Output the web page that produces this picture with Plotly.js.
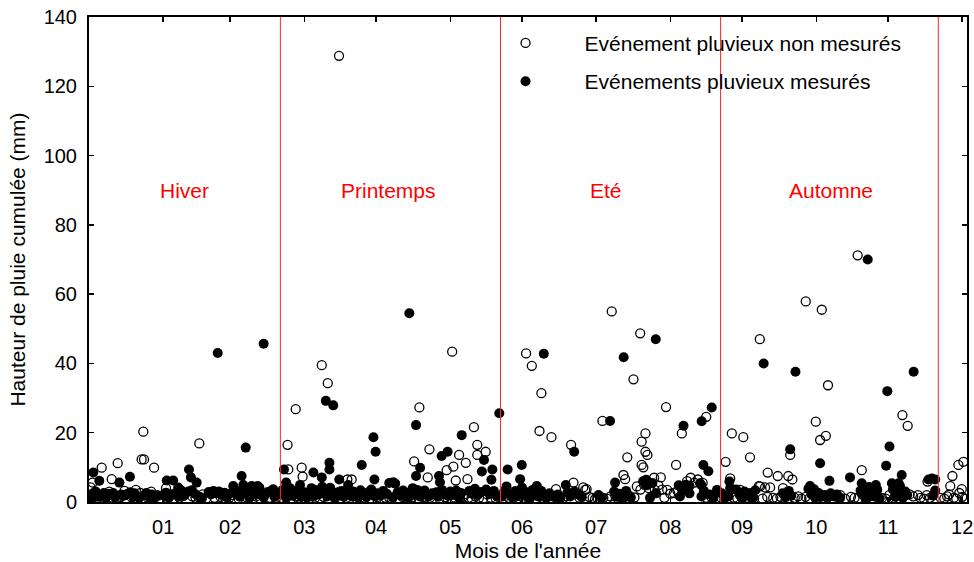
<!DOCTYPE html>
<html>
<head>
<meta charset="utf-8">
<script src="https://cdn.plot.ly/plotly-3.0.1.min.js"></script>
<style>html,body{margin:0;padding:0;background:#fff;}#chart{width:974px;height:562px;}</style>
</head>
<body>
<div id="chart"></div>
<script>
// Day of year ticks (end of each month) and their labels
var monthTickDays = [31, 59, 90, 120, 151, 181, 212, 243, 273, 304, 334, 365];
var monthLabels = ['01','02','03','04','05','06','07','08','09','10','11','12'];

// Season boundaries (day of year) and season labels
var seasonBounds = [80, 172, 264, 355];
var seasonNames = ['Hiver', 'Printemps', 'Eté', 'Automne'];
var seasonLabelDay = [40, 125, 216, 310];
var seasonLabelVal = [90, 90, 90, 90];

var seriesNames = ['Evénement pluvieux non mesurés', 'Evénements pluvieux mesurés'];

// Unmeasured rain events (open circles): day of year / cumulative rain (mm)
var unmeasDay = [
 104.5, 22.7, 22, 23, 5.3, 12, 27.2, 46.1, 1.5, 0.7, 9.5, 83, 83.3, 86.4, 88.9, 89.3, 97.3, 99.8, 108, 109.8,
 138.1, 151.8, 160.9, 162.3, 142.3, 154.7, 162.3, 165.8, 135.9, 157.5, 152.3, 149.5, 141.6, 158.2, 153.3,
 182.7, 185.1, 189.1, 188.3, 193.3, 201.5, 202.5, 195.2, 208, 206.6, 214.6, 218.5, 230.4, 227.6, 241.2, 258,
 232.6, 231, 232.6, 233.4, 225, 231, 231.7, 223.4, 224.1, 236.2, 239, 245.4, 247.8,
 268.7, 273.5, 266.1, 276.3, 280.4, 299.6, 306.3, 308.9, 321.3, 303.8, 305.6, 308, 293.1, 340, 342.2, 323,
 283.7, 287.9, 292.3, 294, 280, 282.6, 284.7, 350.5, 360, 360.9, 363.4, 365.5, 364.8,
 0.8, 2.0, 3.0, 4.5, 6.5, 8.5, 9.8, 11.5, 13.0, 14.8, 15.5, 17.8, 19.6, 19.6, 21.5, 22.5, 24.5, 26.0, 27.3, 28.5,
 30.0, 32.2, 33.0, 35.5, 37.8, 39.5, 43.2, 44.5, 45.8, 47.5, 49.0, 52.5, 55.0, 57.0, 58.6, 60.0, 62.5, 66.0, 69.8,
 71.5, 73.5, 75.5, 78.2,
 80.5, 81.5, 84.5, 86.5, 88.0, 90.0, 91.8, 94.5, 96.5, 98.0, 100.0, 102.5, 105.0, 107.5, 110.0, 112.0, 115.2,
 117.5, 121.0, 124.0, 125.5, 126.5, 129.5, 131.0, 133.0, 135.0, 137.8, 140.0, 142.5, 144.0, 146.5, 149.0, 151.5,
 153.0, 155.0, 156.3, 157.5, 158.7, 160.0, 161.5, 163.0, 164.8, 166.5, 168.0, 170.0, 171.0,
 173.0, 175.5, 178.0, 180.0, 181.5, 183.5, 184.8, 187.0, 189.5, 191.5, 193.0, 195.5, 198.0, 199.5, 203.8, 205.0,
 207.4, 209.0, 210.5, 211.5, 212.5, 215.0, 216.5, 218.0, 221.0, 223.5, 226.0, 228.0, 229.0, 230.5, 232.0, 234.0,
 236.5, 238.0, 239.6, 240.5, 241.7, 243.0, 244.5, 246.0, 250.0, 251.5, 253.0, 254.5, 256.5, 258.0, 260.0, 262.0,
 264.5, 266.0, 268.0, 269.5, 271.0, 272.2, 274.8, 276.8, 278.0, 280.5, 281.5, 283.5, 286.0, 287.5, 289.0, 290.1,
 292.0, 295.0, 296.4, 297.8, 299.5, 301.0, 304.5, 307.0, 309.0, 311.0, 313.0, 314.0, 316.0, 318.5, 320.0, 321.5,
 323.0, 324.5, 326.5, 328.0, 329.0, 331.5, 333.0, 334.5, 336.5, 343.0, 344.5, 346.5, 347.5, 349.0, 350.2, 351.5,
 356.0, 357.5, 358.7, 359.5, 361.5, 362.5, 363.8, 365.0, 366.0
];
var unmeasVal = [
 128.8, 20.3, 12.3, 12.3, 9.9, 11.2, 9.9, 16.9, 5.6, 4.2, 6.6, 16.5, 9.4, 26.8, 9.9, 7.3, 39.5, 34.3, 6.5, 6.5,
 27.3, 43.4, 21.6, 16.5, 15.2, 13.6, 13.6, 14.5, 11.7, 11.3, 10.2, 9.2, 7.1, 6.6, 6.2,
 42.9, 39.3, 31.4, 20.5, 18.7, 16.5, 5.6, 3.7, 3.7, 4.2, 23.4, 55.0, 48.7, 35.4, 27.4, 24.6,
 19.8, 17.4, 14.5, 13.6, 12.9, 10.7, 10.0, 7.8, 6.6, 7.0, 7.1, 10.7, 19.8,
 19.8, 18.7, 11.6, 12.9, 47.0, 57.9, 55.5, 33.7, 71.2, 23.2, 17.9, 19.1, 13.6, 25.1, 22.0, 9.2,
 8.5, 7.5, 7.5, 6.5, 4.6, 4.2, 4.2, 5.9, 4.6, 7.5, 10.7, 11.6, 3.7,
 1.2, 2.6, 0.8, 1.6, 0.9, 3.0, 1.2, 0.8, 1.5, 3.2, 1.0, 1.4, 3.5, 1.2, 2.6, 0.9, 1.3, 3.0, 1.2, 2.0,
 1.0, 4.0, 1.5, 1.0, 1.2, 1.8, 1.6, 1.2, 1.4, 2.2, 1.0, 1.2, 1.5, 1.0, 1.2, 2.0, 1.0, 1.3, 1.6,
 1.0, 2.2, 1.2, 1.2,
 1.2, 2.5, 1.0, 1.6, 1.2, 1.0, 2.0, 1.2, 0.9, 1.5, 1.0, 1.4, 1.0, 1.2, 1.6, 0.9, 1.2,
 1.0, 1.5, 1.2, 1.2, 0.8, 1.0, 1.5, 1.0, 1.3, 1.0, 1.5, 1.2, 2.3, 1.0, 1.4, 1.0,
 1.2, 1.2, 1.5, 2.3, 1.2, 1.0, 1.6, 1.2, 1.0, 2.2, 1.2, 1.0, 1.5,
 1.0, 1.2, 1.5, 1.8, 1.2, 1.5, 2.2, 1.0, 1.2, 2.0, 1.0, 1.3, 1.0, 1.6, 2.5, 1.2,
 3.5, 1.5, 1.2, 0.8, 1.2, 1.2, 1.0, 1.6, 1.0, 1.5, 1.0, 1.3, 4.5, 3.6, 5.0, 4.0,
 3.5, 4.8, 3.6, 1.2, 3.5, 2.4, 2.6, 3.2, 6.0, 7.0, 5.6, 6.5, 5.5, 1.2, 1.5, 1.0,
 1.0, 1.5, 6.8, 1.2, 1.0, 3.5, 1.2, 1.6, 1.0, 4.5, 1.0, 1.5, 1.2, 1.0, 1.5, 4.0,
 1.0, 1.2, 1.6, 1.0, 1.5, 1.0, 1.2, 1.0, 1.5, 1.0, 1.5, 2.0, 1.0, 1.5, 1.2, 1.0,
 2.4, 1.2, 1.8, 1.0, 2.5, 1.2, 1.0, 2.0, 1.2, 2.2, 1.6, 2.0, 1.2, 1.0, 2.0, 1.2,
 1.2, 1.0, 1.6, 2.2, 1.2, 1.0, 2.6, 1.5, 1.0
];

// Measured rain events (filled circles): day of year / cumulative rain (mm)
var measDay = [
 53.8, 73, 65.5, 1.8, 4.3, 12.7, 17.1, 41.8, 42.6, 45, 32.5, 35.2, 37.3, 63.8, 60.3, 64.5, 68, 71.2, 77,
 81.5, 82.4, 84, 88.2, 99, 102.1, 100.5, 100.5, 93.8, 97.3, 104.6, 133.9, 136.7, 155.8, 118.9, 119.8, 147.4,
 149.9, 165.1, 114, 138.4, 168.6, 175, 164.2, 136.7, 146.3, 119.3, 127.2, 146.7,
 171.5, 180.9, 180.2, 187.2, 190.1, 199.3, 202.8, 217.8, 223.5, 219.9, 232.9, 236.9, 248.5, 256.1, 260.3,
 256.8, 258.9, 251, 255.9, 267.7, 268, 282, 295.3, 293.1, 305.6, 325.5, 333.7, 344.7, 334.6, 333.2, 339.7,
 318.1, 309.5, 301.4, 303.1, 323, 328.9, 335.6, 338.4, 350.9, 353.7, 353.7,
 0.5, 1.2, 2.8, 3.5, 5.0, 6.2, 7.0, 8.0, 9.0, 10.1, 11.0, 13.5, 14.6, 16.0, 17.2, 18.3, 19.0, 21.0, 23.2, 24.0,
 25.1, 26.2, 27.0, 29.0, 31.0, 32.2, 33.5, 34.6, 36.0, 37.5, 38.6, 40.0, 41.5, 43.0, 44.2, 46.3, 47.2, 50.0,
 51.0, 52.0, 53.2, 54.3, 55.5, 56.6, 57.5, 59.5, 61.2, 62.0, 63.0, 65.0, 66.2, 67.0, 68.5, 69.8, 70.5, 72.0,
 73.0, 74.5, 76.0, 77.5, 78.6,
 80.5, 81.0, 82.5, 83.5, 85.0, 86.0, 87.2, 88.8, 90.0, 91.2, 92.0, 93.0, 94.0, 95.2, 96.0, 97.5, 98.5, 99.5,
 100.8, 101.7, 103.0, 104.0, 105.5, 106.5, 107.4, 108.3, 109.5, 110.5, 111.6, 112.5, 113.5, 114.8, 116.0,
 117.0, 118.0, 119.5, 120.5, 122.0, 123.0, 124.5, 125.5, 127.0, 128.0, 129.0, 130.2, 131.3, 132.5, 133.5,
 134.5, 135.3, 136.0, 137.2, 138.5, 139.6, 140.3, 142.0, 143.5, 145.2, 146.0, 147.5, 148.5, 150.2, 151.0,
 152.2, 153.5, 154.6, 155.5, 159.0, 160.2, 161.3, 162.5, 164.0, 166.0, 167.3, 168.2, 169.2, 170.3,
 172.5, 173.5, 174.5, 176.0, 177.0, 178.3, 179.5, 181.0, 182.0, 183.2, 184.5, 185.5, 186.5, 188.0, 189.0,
 190.3, 191.2, 192.5, 194.0, 196.0, 197.0, 200.0, 201.2, 203.0, 204.5, 206.0, 213.0, 214.2, 219.5, 220.5,
 221.5, 222.6, 224.5, 225.5, 226.5, 231.6, 233.0, 234.5, 235.5, 237.0, 246.5, 247.0, 248.2, 249.5, 251.0,
 255.4, 256.0, 257.0, 259.5, 261.0, 262.5,
 264.5, 265.6, 267.3, 270.5, 272.0, 273.0, 274.0, 275.2, 276.5, 277.5, 278.5, 290.0, 291.2, 292.5, 293.5,
 300.7, 302.0, 303.5, 305.0, 306.2, 307.5, 308.6, 310.0, 311.5, 312.6, 314.0, 322.5, 323.8, 325.0, 326.0,
 327.3, 328.5, 329.5, 330.5, 336.0, 337.0, 338.0, 339.0, 340.2, 341.2, 342.0, 352.3, 352.8
];
var measVal = [
 43.0, 45.7, 15.7, 8.5, 6.1, 5.6, 7.3, 9.4, 7.1, 5.6, 6.2, 6.2, 4.2, 7.5, 4.6, 4.9, 4.6, 4.2, 3.7,
 9.4, 5.6, 4.0, 4.9, 29.2, 27.9, 11.3, 9.4, 8.5, 7.1, 6.5, 54.5, 22.2, 19.3, 18.7, 14.5, 13.3,
 14.5, 12.1, 10.7, 9.9, 9.4, 9.4, 8.8, 7.5, 7.5, 6.5, 5.7, 5.7,
 25.6, 10.7, 6.6, 4.6, 42.8, 4.9, 14.5, 23.4, 41.8, 5.6, 6.4, 47.0, 22.0, 23.3, 27.3,
 10.7, 8.9, 4.6, 4.9, 5.9, 4.0, 40.0, 37.6, 15.2, 11.2, 70.0, 32.0, 37.6, 16.0, 10.5, 7.8,
 7.1, 6.1, 4.6, 3.7, 5.4, 4.9, 5.4, 5.4, 6.5, 6.5, 3.3,
 2.1, 1.0, 3.0, 1.5, 2.0, 2.6, 1.2, 2.4, 2.0, 2.6, 1.4, 2.2, 1.8, 2.3, 2.8, 1.6, 2.5, 1.2, 2.0, 2.6,
 1.5, 2.2, 1.0, 1.8, 2.0, 2.7, 1.3, 2.2, 2.5, 1.6, 3.3, 2.1, 3.0, 3.4, 2.4, 1.5, 1.0, 2.9,
 2.2, 3.2, 2.5, 3.0, 2.0, 2.7, 1.4, 2.6, 3.4, 2.3, 1.5, 3.1, 2.4, 1.2, 3.3, 2.1, 4.6, 2.0,
 1.3, 2.8, 3.2, 1.5, 2.0,
 2.2, 3.5, 1.2, 2.6, 1.8, 3.2, 2.2, 1.5, 2.8, 1.3, 2.4, 4.0, 1.7, 3.4, 2.2, 4.4, 3.0, 1.6,
 4.1, 2.3, 1.2, 2.8, 3.2, 1.5, 2.4, 4.9, 1.8, 3.0, 2.2, 1.3, 3.4, 2.5, 1.4,
 2.9, 3.6, 1.6, 2.5, 1.9, 3.2, 2.4, 5.5, 1.4, 5.3, 2.8, 1.9, 3.3, 2.2, 1.2,
 3.0, 4.0, 2.0, 3.5, 1.5, 2.6, 3.3, 1.6, 2.5, 2.8, 1.5, 3.5, 2.3, 1.8, 3.0,
 2.0, 3.3, 1.3, 2.6, 3.2, 2.4, 3.8, 2.0, 2.9, 3.6, 2.4, 6.4, 3.2, 1.8,
 1.5, 3.0, 4.5, 2.2, 1.3, 3.2, 2.0, 4.2, 1.8, 2.8, 1.2, 3.5, 2.0, 1.5, 3.2,
 2.0, 1.2, 2.5, 1.5, 2.2, 1.1, 2.8, 1.6, 3.0, 2.2, 1.4, 2.0, 1.2, 3.0, 1.5,
 2.4, 1.0, 3.2, 2.0, 1.3, 6.0, 4.8, 1.2, 5.5, 2.5, 4.8, 1.6, 3.3, 5.0, 2.5,
 5.4, 1.6, 3.2, 2.2, 1.2, 3.5,
 2.5, 1.2, 1.6, 3.6, 2.0, 1.0, 3.0, 1.8, 2.6, 1.2, 3.4, 2.5, 1.4, 3.2, 1.8,
 3.8, 2.2, 1.3, 2.6, 1.5, 2.0, 1.2, 2.5, 1.6, 2.2, 1.2, 3.3, 2.0, 1.2, 4.3,
 2.5, 1.5, 3.5, 1.0, 3.6, 1.5, 2.4, 4.6, 1.2, 3.0, 2.0, 6.8, 1.8
];

var FONT = 'Liberation Sans, Arial, sans-serif';

var traces = [
  {
    type: 'scatter', mode: 'markers', name: seriesNames[0],
    x: unmeasDay, y: unmeasVal,
    legendgroup: 'a',
    marker: {symbol: 'circle-open', size: 9, color: '#000', line: {width: 1.3, color: '#000'}}
  },
  {
    type: 'scatter', mode: 'markers', name: seriesNames[1],
    x: measDay, y: measVal,
    legendgroup: 'b',
    marker: {symbol: 'circle', size: 10, color: '#000'}
  }
];

var shapes = seasonBounds.map(function (d) {
  return {type: 'line', xref: 'x', yref: 'paper', x0: d, x1: d, y0: 0, y1: 1,
          line: {color: 'rgb(255,40,40)', width: 1}, layer: 'above'};
});

var annotations = seasonNames.map(function (s, i) {
  return {xref: 'x', yref: 'y', x: seasonLabelDay[i], y: seasonLabelVal[i], text: s,
          showarrow: false, font: {family: FONT, size: 21, color: 'rgb(255,0,0)'}};
});

var layout = {
  width: 974, height: 562,
  margin: {l: 89, r: 7, t: 17, b: 60},
  paper_bgcolor: '#fff', plot_bgcolor: '#fff',
  font: {family: FONT, size: 20, color: '#000'},
  showlegend: true,
  legend: {
    x: 0.43, y: 0.988, xanchor: 'left', yanchor: 'top',
    bgcolor: 'rgba(0,0,0,0)', borderwidth: 0,
    font: {family: FONT, size: 21, color: '#000'},
    itemwidth: 108, traceorder: 'grouped', tracegroupgap: 8
  },
  xaxis: {
    range: [0, 367], tickmode: 'array', tickvals: monthTickDays, ticktext: monthLabels,
    ticks: 'inside', ticklen: 5, tickwidth: 1.5, tickcolor: '#000',
    showline: true, linecolor: '#000', linewidth: 2, mirror: 'ticks',
    showgrid: false, zeroline: false, ticklabelstandoff: 6,
    tickfont: {family: FONT, size: 20, color: '#000'},
    title: {text: "Mois de l'année", font: {family: FONT, size: 21, color: '#000'}, standoff: 8}
  },
  yaxis: {
    range: [0, 140], tickmode: 'array', tickvals: [0, 20, 40, 60, 80, 100, 120, 140],
    ticks: 'inside', ticklen: 5, tickwidth: 1.5, tickcolor: '#000',
    showline: true, linecolor: '#000', linewidth: 2, mirror: 'ticks',
    showgrid: false, zeroline: false, ticklabelstandoff: 6,
    tickfont: {family: FONT, size: 20, color: '#000'},
    title: {text: 'Hauteur de pluie cumulée (mm)', font: {family: FONT, size: 21, color: '#000'}, standoff: 12}
  },
  shapes: shapes,
  annotations: annotations
};

Plotly.newPlot('chart', traces, layout, {displayModeBar: false, staticPlot: true});
</script>
</body>
</html>
